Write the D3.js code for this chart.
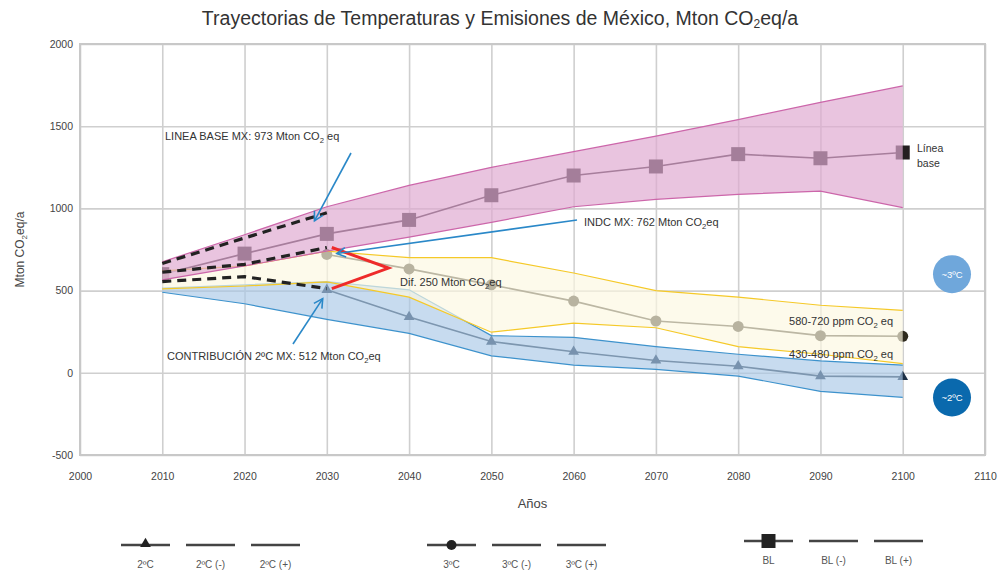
<!DOCTYPE html>
<html>
<head>
<meta charset="utf-8">
<script src="https://cdn.jsdelivr.net/npm/d3@7"></script>
<style>
  html, body { margin: 0; padding: 0; background: #fff; }
  svg { display: block; font-family: "Liberation Sans", Arial, sans-serif; }
</style>
</head>
<body>
<svg id="chart" width="999" height="575"></svg>
<script>
// ---- Data (Mton CO2eq/a) ----
const years = [2010, 2020, 2030, 2040, 2050, 2060, 2070, 2080, 2090, 2100];

const blValues   = [600, 725, 845, 930, 1080, 1200, 1255, 1330, 1305, 1340];
const blLower    = [565, 650, 740, 825, 915, 1010, 1055, 1085, 1105, 1005];
const blUpper    = [675, 840, 1010, 1140, 1250, 1345, 1440, 1540, 1645, 1745];

// scenario central paths start in 2030
const c3Values   = [null, null, 720, 632, 535, 436, 315, 282, 226, 222];
const c3Lower    = [510, 528, 553, 460, 247, 302, 274, 159, 113, 56];
const c3Upper    = [620, 650, 740, 700, 700, 607, 500, 460, 411, 380];

const c2Values   = [null, null, 505, 340, 190, 128, 75, 40, -20, -25];
const c2Lower    = [490, 420, 325, 240, 103, 47, 21, -20, -113, -149];
const c2Upper    = [515, 535, 555, 505, 226, 216, 159, 113, 72, 47];

// Dashed historical-to-2030 trajectories
const dashYears   = [2010, 2020, 2030];
const dashBase    = [665, 820, 973];
const dashIndc    = [612, 660, 762];
const dashContrib = [555, 585, 512];

const xTicks = [2000, 2010, 2020, 2030, 2040, 2050, 2060, 2070, 2080, 2090, 2100, 2110];
const yTicks = [-500, 0, 500, 1000, 1500, 2000];

const legendGroups = [
  { marker: "triangle", labels: ["2ºC", "2ºC (-)", "2ºC (+)"] },
  { marker: "circle",   labels: ["3ºC", "3ºC (-)", "3ºC (+)"] },
  { marker: "square",   labels: ["BL", "BL (-)", "BL (+)"] }
];

// ---- Layout ----
const svg = d3.select("#chart");
const margin = { left: 80, right: 14, top: 44, bottom: 120 };
const W = 999, H = 575;
const x = d3.scaleLinear().domain([2000, 2110]).range([margin.left, W - margin.right]);
const y = d3.scaleLinear().domain([-500, 2000]).range([H - margin.bottom, margin.top]);
const narrow = "'Liberation Sans Narrow', 'Liberation Sans', Arial, sans-serif";

// Renders text with "CO2"-style subscripts; parts = [[text, isSub], ...]
function richText(sel, parts, subSize) {
  parts.forEach(([t, sub], i) => {
    const ts = sel.append("tspan").text(t);
    if (sub) ts.attr("font-size", subSize).attr("dy", 3);
    else if (i > 0 && parts[i - 1][1]) ts.attr("dy", -3);
  });
  return sel;
}

// Title
richText(svg.append("text")
  .attr("x", 500).attr("y", 25)
  .attr("text-anchor", "middle")
  .attr("font-size", 19.5).attr("fill", "#333"),
  [["Trayectorias de Temperaturas y Emisiones de México, Mton CO", false], ["2", true], ["eq/a", false]], 12);

// Grid + axes
const gx = svg.append("g")
  .attr("transform", `translate(0,${y(-500)})`)
  .call(d3.axisBottom(x).tickValues(xTicks).tickSize(-(y(-500) - y(2000))).tickPadding(18).tickFormat(d => String(d)));
const gy = svg.append("g")
  .attr("transform", `translate(${x(2000)},0)`)
  .call(d3.axisLeft(y).tickValues(yTicks).tickSize(-(x(2110) - x(2000))).tickPadding(7).tickFormat(d => String(d)));
[gx, gy].forEach(g => {
  g.select(".domain").remove();
  g.selectAll(".tick line").attr("stroke", "#cfcfcf").attr("stroke-width", 1.6);
  g.selectAll(".tick text").attr("fill", "#444").attr("font-size", 10.5).attr("font-family", narrow);
});
svg.append("rect")
  .attr("x", x(2000)).attr("y", y(2000))
  .attr("width", x(2110) - x(2000)).attr("height", y(-500) - y(2000))
  .attr("fill", "none").attr("stroke", "#c8c8c8").attr("stroke-width", 2);

// Axis titles
svg.append("text").attr("x", x(2055)).attr("y", 508)
  .attr("text-anchor", "middle").attr("font-size", 13).attr("fill", "#444").text("Años");
richText(svg.append("text")
  .attr("transform", `translate(24,${y(750)}) rotate(-90)`)
  .attr("text-anchor", "middle").attr("font-size", 12).attr("fill", "#444"),
  [["Mton CO", false], ["2", true], ["eq/a", false]], 8);

const line = (vals, yrs = years) => d3.line()
  .defined((d, i) => vals[i] != null)
  .x((d, i) => x(yrs[i]))
  .y((d, i) => y(vals[i]))(yrs);
const area = (lo, hi) => d3.area()
  .x((d, i) => x(years[i]))
  .y0((d, i) => y(lo[i]))
  .y1((d, i) => y(hi[i]))(years);

// Series start at the first projection year: clip anything to its left
svg.append("defs").append("clipPath").attr("id", "fromStart")
  .append("rect").attr("x", x(years[0])).attr("y", 0).attr("width", W).attr("height", H);

// ---- Central series (drawn beneath the translucent ranges) ----
const series = svg.append("g").attr("clip-path", "url(#fromStart)");
const defined = v => years.map((d, i) => [d, v[i]]).filter(p => p[1] != null);
series.append("path").attr("d", line(c2Values)).attr("fill", "none").attr("stroke", "#2b3a48").attr("stroke-width", 1.6);
series.append("path").attr("d", line(c3Values)).attr("fill", "none").attr("stroke", "#3a3628").attr("stroke-width", 1.6);
series.append("path").attr("d", line(blValues)).attr("fill", "none").attr("stroke", "#2a1f28").attr("stroke-width", 1.6);

const tri = d3.symbol().type(d3.symbolTriangle).size(50);
series.append("g").selectAll("path").data(defined(c2Values)).join("path")
  .attr("d", tri)
  .attr("transform", d => `translate(${x(d[0])},${y(d[1])})`)
  .attr("fill", "#1d3046");
series.append("g").selectAll("circle").data(defined(c3Values)).join("circle")
  .attr("cx", d => x(d[0])).attr("cy", d => y(d[1])).attr("r", 5.5)
  .attr("fill", "#2e2a1e");
series.append("g").selectAll("rect").data(defined(blValues)).join("rect")
  .attr("x", d => x(d[0]) - 7).attr("y", d => y(d[1]) - 7)
  .attr("width", 14).attr("height", 14)
  .attr("fill", "#231f20");

// ---- Ranges ----
const bands = [
  { lo: c2Lower, hi: c2Upper, fill: "rgba(169,200,231,0.65)", stroke: "#3d92cc" },
  { lo: c3Lower, hi: c3Upper, fill: "rgba(252,247,225,0.67)", stroke: "#f5c928" },
  { lo: blLower, hi: blUpper, fill: "rgba(223,170,209,0.69)", stroke: "#cc66aa" }
];
bands.forEach(b => {
  svg.append("path").attr("d", area(b.lo, b.hi)).attr("fill", b.fill);
  svg.append("path").attr("d", line(b.lo)).attr("fill", "none").attr("stroke", b.stroke).attr("stroke-width", 1.2);
  svg.append("path").attr("d", line(b.hi)).attr("fill", "none").attr("stroke", b.stroke).attr("stroke-width", 1.2);
});

// ---- Dashed 2030 paths ----
[dashBase, dashIndc, dashContrib].forEach(v => {
  svg.append("path").attr("d", line(v, dashYears)).attr("fill", "none")
    .attr("stroke", "#222").attr("stroke-width", 3.2).attr("stroke-dasharray", "9,6");
});

// Difference bracket
const bx = x(2030) + 5;
svg.append("path")
  .attr("d", d3.line()([[bx, y(dashIndc[2])], [x(2037.5), y((dashIndc[2] + dashContrib[2]) / 2)], [bx, y(dashContrib[2])]]))
  .attr("fill", "none").attr("stroke", "#ee2a2a").attr("stroke-width", 3);

// ---- Annotations ----
function note(xp, yp, parts, anchor = "start", size = 11) {
  return richText(svg.append("text").attr("x", xp).attr("y", yp)
    .attr("text-anchor", anchor).attr("font-size", size).attr("fill", "#333")
    .attr("font-family", narrow), parts, size * 0.7);
}
function arrow(x1, y1, x2, y2) {
  svg.append("line").attr("x1", x1).attr("y1", y1).attr("x2", x2).attr("y2", y2)
    .attr("stroke", "#2a88c8").attr("stroke-width", 1.6);
  const a = Math.atan2(y2 - y1, x2 - x1), L = 10, s = 0.5;
  svg.append("path")
    .attr("d", d3.line()([[x2 - L * Math.cos(a - s), y2 - L * Math.sin(a - s)], [x2, y2],
                          [x2 - L * Math.cos(a + s), y2 - L * Math.sin(a + s)]]))
    .attr("fill", "none").attr("stroke", "#2a88c8").attr("stroke-width", 1.6);
}

note(165, 140, [["LINEA BASE MX: 973 Mton CO", false], ["2", true], [" eq", false]]);
arrow(351, 153, x(2028.5), y(dashBase[2]) + 8);

note(584, 226, [["INDC MX: 762 Mton CO", false], ["2", true], ["eq", false]]);
arrow(577, 220, x(2030) + 10, y(dashIndc[2]) + 6);

note(400, 286, [["Dif. 250 Mton CO", false], ["2", true], ["eq", false]]);

note(167, 360, [["CONTRIBUCIÓN 2ºC MX: 512 Mton CO", false], ["2", true], ["eq", false]]);
arrow(293, 344, x(2029.5), y(dashContrib[2]) + 10);

note(893, 325, [["580-720 ppm CO", false], ["2", true], [" eq", false]], "end");
note(893, 358, [["430-480 ppm CO", false], ["2", true], [" eq", false]], "end");

note(917, 152, [["Línea", false]], "start", 10.5);
note(917, 167, [["base", false]], "start", 10.5);

// Temperature badges
[["~3ºC", 600, "#6fa7db"], ["~2ºC", -150, "#0a69ad"]].forEach(([t, v, c]) => {
  svg.append("circle").attr("cx", 952).attr("cy", y(v)).attr("r", 19).attr("fill", c);
  svg.append("text").attr("x", 952).attr("y", y(v) + 3.5).attr("text-anchor", "middle")
    .attr("font-size", 9.5).attr("fill", "#fff").attr("font-family", narrow).text(t);
});

// ---- Legend ----
const legStarts = [121, 427, 744];
const legY = [545, 545, 541];
legendGroups.forEach((g, gi) => {
  g.labels.forEach((lab, li) => {
    const x0 = legStarts[gi] + li * 65, cx = x0 + 24.5;
    svg.append("line").attr("x1", x0).attr("x2", x0 + 49).attr("y1", legY[gi]).attr("y2", legY[gi])
      .attr("stroke", "#444").attr("stroke-width", 2.4);
    if (li === 0) {
      if (g.marker === "triangle")
        svg.append("path").attr("d", tri).attr("transform", `translate(${cx},${legY[gi] - 1})`).attr("fill", "#222");
      else if (g.marker === "circle")
        svg.append("circle").attr("cx", cx).attr("cy", legY[gi]).attr("r", 5).attr("fill", "#222");
      else
        svg.append("rect").attr("x", cx - 7).attr("y", legY[gi] - 7).attr("width", 14).attr("height", 14).attr("fill", "#222");
    }
    svg.append("text").attr("x", cx).attr("y", legY[gi] + 23).attr("text-anchor", "middle")
      .attr("font-size", 10).attr("fill", "#555").attr("font-family", narrow).text(lab);
  });
});
</script>
</body>
</html>
